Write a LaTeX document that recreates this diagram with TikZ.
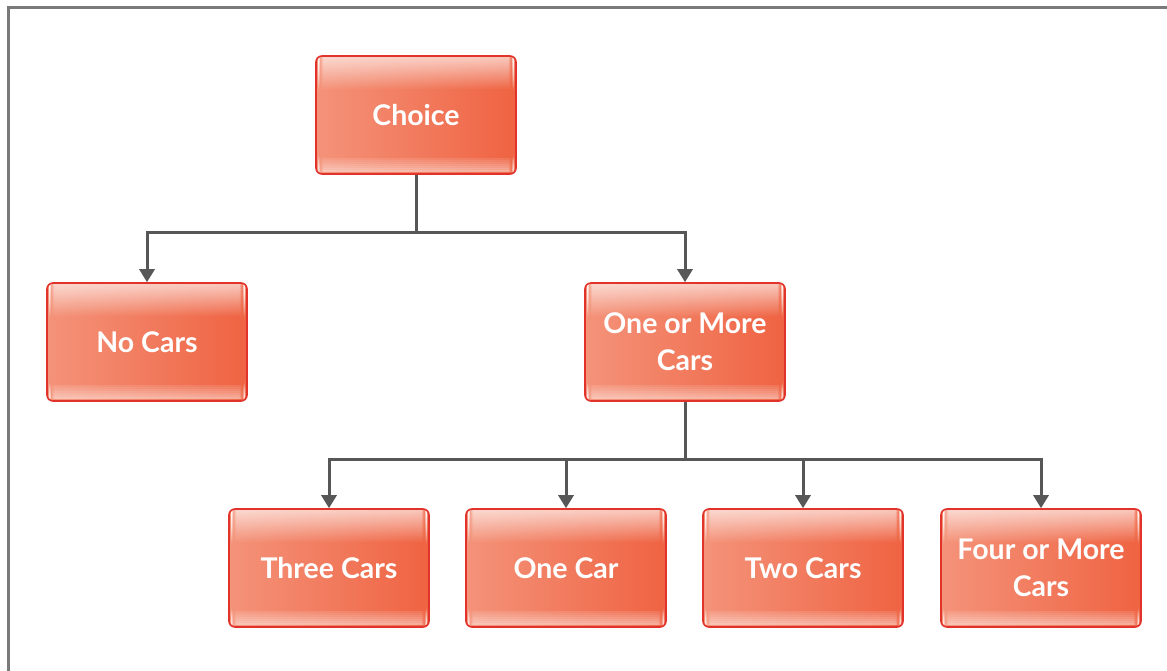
\documentclass[tikz,border=0pt]{standalone}
\usepackage{fontspec}
\setmainfont{Lato}
\usetikzlibrary{arrows.meta}

\definecolor{boxedge}{HTML}{E2332A}
\definecolor{boxleft}{HTML}{F4937A}
\definecolor{boxright}{HTML}{EF6342}
\definecolor{wire}{HTML}{575757}
\definecolor{framegray}{HTML}{7A7A7A}

\tikzset{
  card/.style={
    draw=boxedge, line width=1.6pt, rounded corners=6pt,
    minimum width=200pt, minimum height=118pt,
    left color=boxleft, right color=boxright,
    text=white, font=\fontsize{28.5}{37}\selectfont\bfseries, align=center,
    path picture={
      % glossy highlight along the top edge, built from thin strips
      \foreach \i in {0,...,15}{
        \fill[white, opacity={0.62*(1-\i/16)}]
          ([xshift=2pt,yshift={-1pt-2*\i*1pt}]path picture bounding box.north west)
          rectangle ([xshift=-2pt,yshift={-1pt-2*(\i+1)*1pt}]path picture bounding box.north east);
      }
      % lighter strip along the bottom edge
      \foreach \i in {0,...,6}{
        \fill[white, opacity={0.45*(1-\i/8)}]
          ([xshift=2pt,yshift={2pt+2*\i*1pt}]path picture bounding box.south west)
          rectangle ([xshift=-2pt,yshift={2pt+2*(\i+1)*1pt}]path picture bounding box.south east);
      }
    }},
  link/.style={draw=wire, line width=3pt, -{Triangle[width=15pt,length=13pt]}},
  trunk/.style={draw=wire, line width=3pt}
}

\begin{document}
\begin{tikzpicture}[x=1pt,y=-1pt]
\useasboundingbox (0,0) rectangle (1167,670);

% outer frame (only left and top edges fall inside the page)
\draw[framegray, line width=3.5pt] (8.5,680) -- (8.5,7.5) -- (1180,7.5);

% boxes
\node[card] (choice) at (416,115) {Choice};
\node[card] (nocars) at (147,342) {No Cars};
\node[card] (more)   at (685,342) {One or More\\Cars};
\node[card] (three)  at (329,568) {Three Cars};
\node[card] (one)    at (566,568) {One Car};
\node[card] (two)    at (803,568) {Two Cars};
\node[card] (four)   at (1041,568) {Four or More\\Cars};

% branching points
\coordinate (j1) at (416,232);
\coordinate (j2) at (685,459);

% first level
\draw[trunk] (choice.south) -- (j1);
\draw[link] (j1) -| (nocars.north);
\draw[link] (j1) -| (more.north);

% second level
\draw[trunk] (more.south) -- (j2);
\draw[link] (j2) -| (three.north);
\draw[link] (j2) -| (one.north);
\draw[link] (j2) -| (two.north);
\draw[link] (j2) -| (four.north);
\end{tikzpicture}
\end{document}
